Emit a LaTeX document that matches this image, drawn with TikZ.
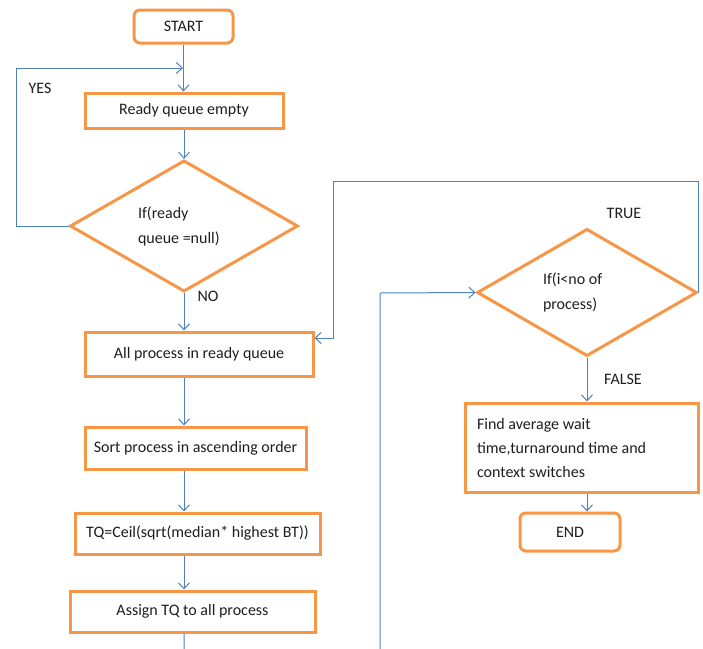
\documentclass[tikz,border=0pt]{standalone}
\usepackage{fontspec}
\setmainfont{Carlito}
\usetikzlibrary{shapes.geometric,arrows.meta}
\definecolor{boxorange}{HTML}{F79646}
\definecolor{lineblue}{HTML}{4F81BD}
\definecolor{txtgray}{HTML}{1E1E1E}
\begin{document}
\begin{tikzpicture}[x=1pt,y=-1pt,
  every node/.style={font=\fontsize{16}{25}\selectfont, text=txtgray},
  proc/.style={draw=boxorange, line width=3pt, rectangle, inner sep=0pt},
  term/.style={proc, rounded corners=6pt},
  cond/.style={draw=boxorange, line width=3pt, diamond, inner sep=0pt, align=flush left},
  flow/.style={draw=lineblue, line width=1pt, -{Straight Barb[length=6pt,width=11pt]}}]
\useasboundingbox (0,0) rectangle (703,648) ;
\clip (0,0) rectangle (703,648) ;
% left column
\node[term, minimum width=99, minimum height=33] (start) at (183.5,26.5) {START} ;
\node[proc, minimum width=198, minimum height=35] (ready) at (184,110.5) {Ready queue empty} ;
\node[cond, minimum width=228, minimum height=119, text width=92] (cond1) at (184,226) {If(ready\\queue =null)} ;
\node[proc, minimum width=228, minimum height=44] (allproc) at (199,354) {All process in ready queue} ;
\node[proc, minimum width=221, minimum height=42] (sort) at (195.5,448) {Sort process in ascending order} ;
\node[proc, minimum width=245, minimum height=41] (tq) at (197.5,533.5) {TQ=Ceil(sqrt(median* highest BT))} ;
\node[proc, minimum width=245, minimum height=41] (assign) at (192.5,611.5) {Assign TQ to all process} ;
% right column
\node[cond, minimum width=220, minimum height=121, text width=88] (cond2) at (587,292.5) {If(i<no of\\process)} ;
\node[proc, minimum width=233, minimum height=89, text width=209, align=flush left,
  font=\fontsize{16}{24}\selectfont] (find) at (581.5,447.5) {Find average wait\\time,turnaround time and\\context switches} ;
\node[term, minimum width=100, minimum height=38] (end) at (570,532) {END} ;
% labels
\node (yes) at (40,88) {YES} ;
\node (no) at (208,296) {NO} ;
\node (true) at (624,213) {TRUE} ;
\node (false) at (623,379) {FALSE} ;
% connectors
\coordinate (yesjoin) at (183,68) ;
\coordinate (truein) at (333,338) ;
\coordinate (backup) at (380,293) ;
\draw[flow] (start.south) -- (start.south |- ready.north) ;
\draw[flow] (cond1.west) -- ++(-52,0) |- (yesjoin) ;
\draw[flow] (ready.south) -- (cond1.north) ;
\draw[flow] (cond1.south) -- (cond1.south |- allproc.north) ;
\draw[flow] (cond1.south |- allproc.south) -- (cond1.south |- sort.north) ;
\draw[flow] (cond1.south |- sort.south) -- (cond1.south |- tq.north) ;
\draw[flow] (cond1.south |- tq.south) -- (cond1.south |- assign.north) ;
\draw[flow] (cond1.south |- assign.south) -- ++(0,40) -| (backup) -- (cond2.west) ;
\draw[flow] (cond2.east) -- ++(0,-111) -| (truein) -- (allproc.east |- truein) ;
\draw[flow] (cond2.south) -- (cond2.south |- find.north) ;
\draw[flow] (cond2.south |- find.south) -- (cond2.south |- end.north) ;
\end{tikzpicture}
\end{document}
